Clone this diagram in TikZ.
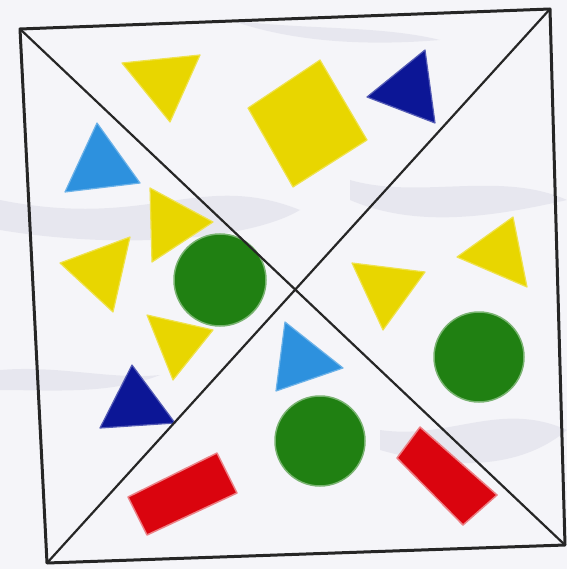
\documentclass[tikz,border=0pt]{standalone}
\usepackage{tikz}
\usetikzlibrary{calc}

\definecolor{shapeyellow}{RGB}{232,214,0}
\definecolor{shapenavy}{RGB}{12,22,150}
\definecolor{shapesky}{RGB}{45,145,222}
\definecolor{shapegreen}{RGB}{32,128,18}
\definecolor{shapered}{RGB}{218,4,14}
\definecolor{paper}{RGB}{245,245,249}
\definecolor{shade}{RGB}{215,215,228}

\begin{document}
\begin{tikzpicture}[
  x=1pt, y=-1pt,
  frame/.style={draw=black!85, line width=3pt, line join=round},
  cross/.style={draw=black!85, line width=2.2pt},
  yel/.style={fill=shapeyellow, draw=shapeyellow!70!white, line width=1.2pt, line join=round},
  navy/.style={fill=shapenavy, draw=shapenavy!70!white, line width=1.2pt, line join=round},
  sky/.style={fill=shapesky, draw=shapesky!70!white, line width=1.2pt, line join=round},
  disc/.style={fill=shapegreen, draw=shapegreen!60!white, line width=1.5pt},
  brick/.style={fill=shapered, draw=shapered!50!white, line width=1.5pt, line join=round},
  crease/.style={fill=shade, opacity=0.45}
]
  % crumpled paper background
  \fill[paper] (0,0) rectangle (567,569);
  \fill[crease] (0,200) .. controls (150,230) and (200,170) .. (300,210)
                .. controls (250,240) and (120,250) .. (0,230) -- cycle;
  \fill[crease] (350,180) .. controls (420,200) and (500,170) .. (567,200)
                .. controls (500,215) and (420,230) .. (350,200) -- cycle;
  \fill[crease] (380,430) .. controls (450,440) and (500,400) .. (567,430)
                .. controls (520,470) and (450,470) .. (380,450) -- cycle;
  \fill[crease] (0,370) .. controls (60,365) and (110,380) .. (160,375)
                .. controls (110,395) and (50,390) .. (0,390) -- cycle;
  \fill[crease] (230,20) .. controls (300,30) and (380,25) .. (440,40)
                .. controls (380,45) and (300,45) .. (230,20) -- cycle;

  % top quarter
  \path[yel]  (122,63) -- (200,55) -- (170,122) -- cycle;
  \path[yel]  (320,60) -- (367,140) -- (293,187) -- (248,108) -- cycle;
  \path[navy] (367,97) -- (425,50) -- (435,123) -- cycle;

  % left quarter
  \path[sky]  (97,123) -- (65,192) -- (140,183) -- cycle;
  \path[yel]  (150,188) -- (213,222) -- (152,262) -- cycle;
  \path[yel]  (60,263) -- (130,237) -- (113,312) -- cycle;
  \path[disc] (220,280) circle (46);
  \path[yel]  (147,315) -- (213,330) -- (173,380) -- cycle;
  \path[navy] (132,365) -- (100,428) -- (175,423) -- cycle;

  % right quarter
  \path[yel]  (352,263) -- (425,272) -- (383,330) -- cycle;
  \path[yel]  (513,217) -- (457,257) -- (527,287) -- cycle;
  \path[disc] (479,357) circle (45);

  % bottom quarter
  \path[sky]  (285,322) -- (343,368) -- (276,391) -- cycle;
  \path[disc] (320,441) circle (45);
  \path[brick] (128,497) -- (217,453) -- (237,493) -- (147,535) -- cycle;
  \path[brick] (420,427) -- (497,495) -- (463,525) -- (397,458) -- cycle;

  % frame and diagonals
  \coordinate (tl) at (20,29);
  \coordinate (tr) at (550,9);
  \coordinate (br) at (565,545);
  \coordinate (bl) at (47,563);
  \draw[cross] (tl) -- (br);
  \draw[cross] (tr) -- (bl);
  \draw[frame] (tl) -- (tr) -- (br) -- (bl) -- cycle;
\end{tikzpicture}
\end{document}
